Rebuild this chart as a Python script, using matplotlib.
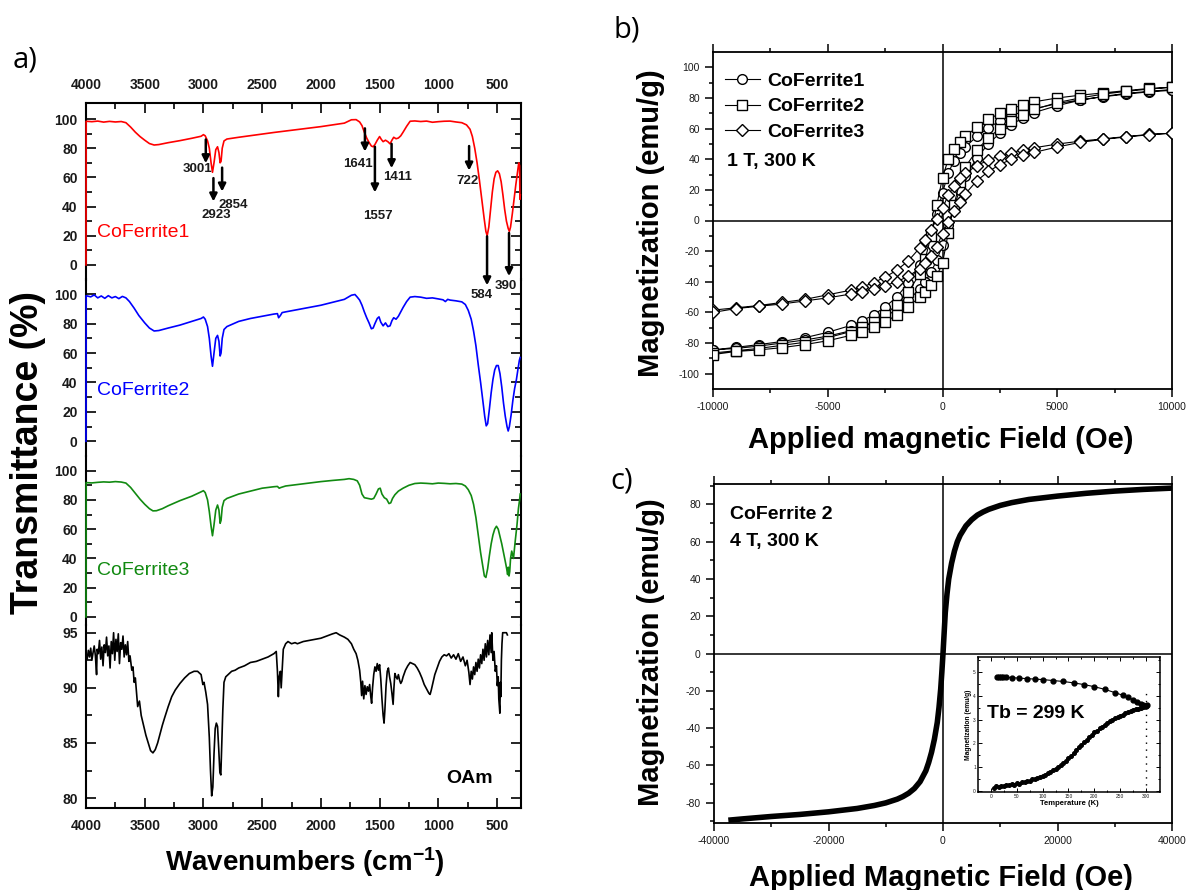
import matplotlib
matplotlib.use("Agg")
import matplotlib.pyplot as plt
from matplotlib.ticker import MultipleLocator, FixedLocator

plt.rcParams['font.family'] = ['Liberation Sans', 'DejaVu Sans']
plt.rcParams['mathtext.fontset'] = 'custom'
plt.rcParams['mathtext.rm'] = 'Liberation Sans'
plt.rcParams['mathtext.bf'] = 'Liberation Sans:bold'
plt.rcParams['mathtext.default'] = 'bf'
plt.rcParams['axes.unicode_minus'] = False

# ---------------- Panel a: FTIR spectra (wavenumber, transmittance) ----------------
cf1_pts = [(4000, 0), (3999, 98.5), (3950, 98.2), (3900, 98.6), (3850, 97.9), (3800, 98.4), (3750, 98.0),
           (3700, 98.3), (3660, 97.5), (3620, 94.5), (3580, 91), (3540, 88), (3500, 85.5), (3460, 83.2),
           (3420, 82.2), (3380, 82.5), (3300, 83.8), (3200, 85.2), (3100, 86.8), (3020, 88.2), (3000, 89.3),
           (2985, 88.5), (2965, 85), (2950, 80), (2935, 70), (2923, 63.5), (2910, 70), (2895, 79), (2880, 81),
           (2868, 77), (2858, 70), (2850, 71), (2840, 80), (2825, 85), (2800, 86.3), (2700, 87.5), (2600, 88.6),
           (2500, 89.7), (2400, 90.8), (2300, 91.8), (2200, 92.8), (2100, 93.8), (2000, 94.8), (1900, 96),
           (1800, 97.2), (1740, 99.5), (1700, 99.6), (1670, 98), (1650, 95.5), (1630, 91), (1610, 87),
           (1590, 84), (1570, 81.5), (1555, 81), (1540, 82.5), (1520, 85.5), (1500, 88), (1485, 86),
           (1470, 84.5), (1450, 85.5), (1430, 84.5), (1411, 83), (1395, 85.5), (1380, 87.5), (1360, 86.5),
           (1340, 87), (1320, 88.5), (1300, 91), (1270, 95), (1240, 98.5), (1200, 98.7), (1150, 98.3),
           (1100, 98.6), (1050, 97.8), (1000, 98.2), (950, 98.5), (900, 98.6), (850, 98), (800, 97.5),
           (760, 96), (730, 93), (710, 88), (690, 80), (670, 70), (650, 58), (630, 45), (610, 32), (595, 23),
           (584, 20), (570, 26), (555, 38), (540, 50), (525, 59), (510, 63.5), (495, 64.5), (480, 62.5),
           (465, 57), (450, 48), (435, 38), (420, 30), (405, 25), (395, 23), (385, 26), (370, 35), (355, 45),
           (340, 55), (325, 64), (315, 70), (308, 68), (305, 45), (302, 48)]

cf2_pts = [(4000, 0), (3999, 99), (3960, 98.2), (3930, 99.5), (3900, 97.5), (3870, 98.8), (3840, 97.2),
           (3810, 99), (3780, 97.5), (3750, 98.4), (3720, 97), (3690, 98.5), (3660, 97.5), (3630, 95),
           (3590, 90.5), (3550, 85.5), (3500, 80.5), (3460, 77), (3420, 75), (3380, 75.3), (3300, 77),
           (3200, 79), (3100, 81.5), (3020, 83.5), (3000, 84.5), (2985, 83), (2965, 78), (2950, 70), (2935, 58),
           (2923, 51), (2910, 60), (2895, 70), (2880, 72), (2868, 68), (2858, 58), (2850, 60), (2840, 70),
           (2825, 76), (2800, 78), (2700, 81.5), (2600, 83.5), (2500, 85), (2400, 86.5), (2370, 86.8),
           (2360, 84), (2345, 85.5), (2330, 87.5), (2300, 88), (2200, 89.5), (2100, 91), (2000, 92.5),
           (1900, 94.5), (1800, 96.5), (1740, 99.3), (1710, 99.8), (1690, 98), (1670, 96), (1650, 92.5),
           (1630, 88), (1610, 84), (1590, 80.5), (1570, 76.5), (1555, 77), (1540, 80), (1520, 83.5),
           (1505, 84.6), (1490, 81), (1470, 78.5), (1450, 80.5), (1430, 78), (1411, 78.5), (1395, 82),
           (1380, 84), (1360, 83), (1340, 85), (1320, 88), (1300, 91), (1270, 95), (1240, 98), (1200, 98.4),
           (1150, 98), (1100, 97.2), (1050, 97.5), (1000, 96.8), (960, 96.2), (940, 95), (920, 96.5),
           (900, 96), (850, 95.5), (800, 94.8), (770, 93), (745, 89), (720, 83), (700, 75), (680, 65),
           (660, 52), (640, 40), (620, 27), (605, 17), (592, 10.5), (580, 12), (565, 22), (550, 33),
           (535, 42), (520, 48.5), (505, 51.5), (490, 51.5), (475, 46), (460, 37), (445, 26), (430, 17),
           (415, 10), (405, 7), (395, 10), (380, 18), (365, 28), (350, 36), (335, 42), (320, 50), (310, 55),
           (303, 57)]

cf3_pts = [(4000, 0), (3999, 91.8), (3950, 91.6), (3900, 92), (3850, 92.3), (3800, 92.1), (3750, 92.5),
           (3700, 92.2), (3660, 91.5), (3620, 88.5), (3580, 84.5), (3540, 80.5), (3500, 77), (3460, 74),
           (3430, 72.5), (3400, 72.6), (3350, 74), (3300, 76), (3200, 79.5), (3100, 82.5), (3020, 85.5),
           (3000, 86.3), (2985, 85), (2965, 80), (2950, 72), (2935, 62), (2923, 55.5), (2910, 63), (2895, 73),
           (2880, 76.5), (2868, 73), (2858, 64), (2850, 66), (2840, 75), (2825, 79.5), (2800, 81), (2700, 84),
           (2600, 86), (2500, 88), (2400, 89), (2370, 89.2), (2355, 88), (2340, 88.5), (2300, 89.5),
           (2200, 90.5), (2100, 91.5), (2000, 92.5), (1900, 93.3), (1800, 94), (1760, 94.5), (1720, 94),
           (1690, 93), (1670, 90), (1650, 84), (1630, 81.5), (1600, 81), (1570, 80.5), (1550, 81), (1530, 84),
           (1510, 87.5), (1495, 88), (1480, 84), (1460, 81.5), (1440, 80.5), (1420, 77.5), (1405, 78),
           (1390, 81), (1370, 83.5), (1340, 86), (1300, 88), (1250, 90), (1200, 91.2), (1150, 91.5),
           (1100, 91.3), (1050, 91), (1000, 91.5), (950, 91.3), (900, 91), (850, 91.2), (800, 90.8),
           (770, 89.5), (745, 87), (720, 83), (700, 77), (680, 68), (660, 56), (640, 44), (620, 34), (608, 28),
           (595, 27), (580, 33), (565, 42), (550, 50), (535, 56), (520, 60), (505, 62), (490, 60), (475, 55),
           (460, 50), (445, 44), (430, 38), (418, 33), (410, 29), (404, 34), (398, 28), (392, 31), (385, 40),
           (375, 45), (360, 40), (345, 52), (330, 63), (318, 74), (308, 80), (303, 84)]

oam_pts = [(4000, 93.0), (3990, 92.6), (3980, 93.4), (3970, 92.8), (3960, 93.6), (3950, 92.5), (3940, 93.2),
           (3930, 93.8), (3920, 92.9), (3910, 91.2), (3905, 93.5), (3895, 93.1), (3885, 94.3), (3875, 92.6),
           (3865, 93.7), (3855, 92.0), (3845, 93.9), (3835, 93.2), (3825, 94.6), (3815, 92.9), (3805, 93.8),
           (3795, 91.8), (3785, 94.2), (3775, 93.1), (3765, 95.0), (3755, 92.5), (3745, 94.4), (3735, 93.3),
           (3725, 94.9), (3715, 92.2), (3705, 94.1), (3695, 93.5), (3685, 94.7), (3675, 92.8), (3665, 93.9),
           (3655, 93.0), (3645, 94.2), (3635, 92.4), (3625, 92.9), (3610, 91.6), (3600, 91.9), (3590, 90.5),
           (3580, 90.9), (3570, 89.6), (3560, 88.3), (3545, 88.8), (3530, 87.5), (3510, 86.6), (3490, 85.7),
           (3470, 85.0), (3450, 84.3), (3430, 84.1), (3410, 84.4), (3390, 85.0), (3370, 85.8), (3350, 86.6),
           (3330, 87.3), (3300, 88.3), (3270, 89.2), (3240, 89.8), (3200, 90.4), (3160, 90.9), (3120, 91.3),
           (3080, 91.5), (3050, 91.5), (3020, 91.2), (3005, 90.3), (2995, 90.5), (2980, 89.6), (2965, 88.5),
           (2950, 85.5), (2940, 82.5), (2930, 80.2), (2920, 81.0), (2910, 84.0), (2900, 86.3), (2890, 86.8),
           (2880, 86.5), (2870, 84.5), (2860, 82.3), (2852, 82.1), (2845, 84.5), (2835, 88.0), (2825, 90.5),
           (2810, 91.0), (2790, 91.2), (2760, 91.5), (2730, 91.6), (2700, 91.8), (2650, 92.0), (2600, 92.3),
           (2550, 92.4), (2500, 92.6), (2450, 92.8), (2400, 93.1), (2380, 93.3), (2370, 91.5), (2362, 89.2),
           (2355, 91.0), (2345, 91.5), (2338, 90.0), (2330, 91.5), (2320, 93.5), (2300, 94.0), (2280, 94.2),
           (2250, 94.0), (2220, 94.1), (2200, 94.0), (2150, 94.2), (2100, 94.3), (2050, 94.4), (2000, 94.5),
           (1950, 94.7), (1900, 94.9), (1870, 95.0), (1840, 94.8), (1800, 94.6), (1770, 94.4), (1740, 94.0),
           (1720, 93.5), (1700, 93.1), (1685, 92.5), (1670, 91.6), (1660, 90.5), (1653, 89.3), (1645, 90.6),
           (1635, 89.0), (1625, 90.2), (1615, 89.4), (1605, 90.1), (1595, 89.7), (1585, 90.3), (1575, 89.2),
           (1568, 88.6), (1560, 90.0), (1550, 91.2), (1540, 91.9), (1530, 91.5), (1520, 92.2), (1510, 91.6),
           (1500, 92.1), (1490, 90.8), (1480, 89.0), (1470, 87.5), (1462, 86.8), (1455, 88.0), (1445, 90.2),
           (1435, 91.5), (1425, 91.8), (1415, 91.0), (1405, 90.4), (1395, 89.5), (1385, 88.5), (1378, 90.0),
           (1370, 91.3), (1360, 91.0), (1350, 90.8), (1340, 91.2), (1330, 90.7), (1320, 90.4), (1310, 90.6),
           (1300, 91.0), (1280, 91.6), (1260, 92.0), (1240, 92.3), (1220, 92.2), (1200, 92.1), (1180, 91.8),
           (1160, 91.4), (1140, 90.9), (1120, 90.3), (1100, 89.9), (1080, 89.5), (1070, 89.4), (1060, 89.8),
           (1045, 90.5), (1030, 91.2), (1010, 91.8), (990, 92.4), (970, 92.8), (950, 93.0), (930, 92.9),
           (910, 93.1), (890, 92.7), (870, 93.0), (850, 92.6), (830, 93.1), (810, 92.4), (790, 92.8),
           (770, 92.0), (755, 92.5), (740, 91.4), (730, 90.3), (720, 91.5), (710, 90.8), (700, 91.9),
           (690, 91.2), (680, 92.3), (670, 91.5), (660, 92.6), (650, 91.8), (640, 93.0), (630, 92.2),
           (620, 93.5), (610, 92.5), (600, 94.0), (590, 92.8), (580, 94.3), (570, 93.0), (560, 94.8),
           (550, 93.2), (545, 95.0), (535, 92.5), (525, 93.3), (515, 91.5), (505, 92.0), (498, 90.2),
           (490, 91.0), (485, 89.0), (480, 88.2), (476, 87.7), (472, 90.5), (468, 89.2), (463, 92.5),
           (458, 94.0), (452, 95.0), (440, 95.0), (430, 95.0), (420, 95.0), (412, 94.8)]

spectra_names = ['CoFerrite1', 'CoFerrite2', 'CoFerrite3', 'OAm']
spectra_colors = ['#ff0000', '#0000ff', '#118a11', '#000000']
name_label_y = [21.9, 34.7, 32.0, 81.8]

peak_labels = ['3001', '2923', '2854', '1641', '1557', '1411', '722', '584', '390']
peak_wn = [2980, 2915, 2841, 1625, 1540, 1398, 738, 585, 398]
arrow_from = [86, 59.5, 66.7, 93.6, 81, 83, 81.5, 19.6, 21.9]
arrow_to = [69.7, 43.5, 50.3, 77.7, 49.7, 66.3, 64.7, -14.0, -7.7]
peak_text_wn = [3053, 2892, 2744, 1682, 1512, 1350, 755, 633, 426]
peak_text_y = [65.6, 34.4, 40.8, 69.2, 33.3, 60.1, 57.6, -20.5, -14.6]

# ---------------- Panel b: hysteresis loops at 1 T ----------------
field_desc = [10000, 9000, 8000, 7000, 6000, 5000, 4000, 3500, 3000, 2500, 2000, 1500, 1000, 750, 500, 250,
              0, -250, -500, -750, -1000, -1500, -2000, -2500, -3000, -3500, -4000, -5000, -6000, -7000,
              -8000, -9000, -10000]
field_asc = field_desc[::-1]
cf1_desc = [85, 84, 82.5, 80.8, 78.8, 76.3, 73, 71, 68.5, 65, 60.5, 55, 48, 44, 39, 31, 18, 4, -8, -20,
            -29, -41, -50, -56.5, -61.5, -65.5, -68.5, -73, -76.5, -79, -81, -82.8, -84.5]
cf1_asc = [-84.5, -83.5, -82, -80, -78, -75.5, -72, -69.5, -66.5, -63, -58, -52, -45, -40, -33.5, -26,
           -16, -3, 9, 20, 29, 41, 50, 57, 62.5, 67, 70.5, 75, 78.5, 81, 83, 84.3, 85.5]
cf2_desc = [87, 86.2, 84.8, 83.3, 81.8, 80, 77.5, 75.5, 73, 70, 66, 61, 55, 51.5, 47, 40, 28, 10, -10, -25,
            -35, -47, -55, -61.5, -66, -69.5, -72.5, -76.5, -79.5, -81.5, -83.5, -85, -86.5]
cf2_asc = [-87.5, -85.5, -84.5, -83, -81, -78.5, -75, -72.5, -69.5, -66, -62, -56.5, -50, -46.5, -42, -36,
           -28, -8, 10, 25, 35, 46, 54, 60, 65, 69, 72.5, 77, 80, 82.5, 84.3, 85.8, 87]
cf3_desc = [57, 56.2, 54.8, 53.3, 51.8, 49.9, 47.5, 46.2, 44.3, 42.3, 39.5, 35.8, 31, 27.5, 22.5, 16.5, 8,
            1, -6, -12.5, -18, -26.5, -32.5, -37, -40.5, -43.5, -45.5, -48.5, -51.5, -53.5, -55.5, -57, -58.5]
cf3_asc = [-60, -57.5, -56, -54.5, -52.5, -50.5, -48, -46.5, -44.5, -42.5, -40, -36.5, -31.5, -28, -23, -17,
           -8.5, -1, 6, 12, 17.5, 26, 32, 36.5, 40, 42.5, 44.5, 48, 51, 53, 54.5, 56, 57]
loop_names = ['CoFerrite1', 'CoFerrite2', 'CoFerrite3']
loop_markers = ['o', 's', 'D']

# ---------------- Panel c: CoFerrite 2 at 4 T ----------------
field_c = [-37500, -35000, -30000, -25000, -20000, -15000, -12000, -10000, -8000, -7000, -6000, -5000,
           -4000, -3000, -2500, -2000, -1500, -1000, -700, -400, -200, 0, 200, 400, 700, 1000, 1500, 2000,
           2500, 3000, 4000, 5000, 6000, 7000, 8000, 10000, 12000, 15000, 20000, 25000, 30000, 35000, 40000]
mag_c = [-89.5, -88.8, -87.5, -86.4, -85, -83.2, -81.6, -80.2, -78.2, -76.8, -75, -72.5, -68.8, -63, -58.5,
         -53, -46, -37, -29, -19, -10, 0, 11, 22, 32, 40, 48.5, 55, 60, 63.5, 68.5, 71.8, 74.3, 76, 77.4,
         79.5, 81, 82.7, 84.5, 86, 87.2, 88.1, 88.8]

# inset: ZFC / FC
fc_T = [12, 16, 20, 24, 30, 40, 55, 70, 85, 100, 120, 140, 160, 180, 200, 220, 240, 255, 265, 275, 283,
        290, 295, 298, 300, 301]
fc_M = [4.8, 4.8, 4.8, 4.8, 4.78, 4.76, 4.74, 4.72, 4.7, 4.68, 4.64, 4.6, 4.54, 4.47, 4.38, 4.27, 4.13,
        4.02, 3.93, 3.83, 3.74, 3.67, 3.62, 3.58, 3.56, 3.6]
zfc_T = list(range(5, 305, 5))
zfc_M = [0.12, 0.2, 0.17, 0.22, 0.2, 0.24, 0.23, 0.27, 0.26, 0.31, 0.3, 0.35, 0.36, 0.4, 0.43, 0.48, 0.5,
         0.56, 0.58, 0.64, 0.68, 0.74, 0.8, 0.87, 0.93, 1.02, 1.08, 1.19, 1.26, 1.39, 1.47, 1.6, 1.7, 1.84,
         1.92, 2.05, 2.13, 2.26, 2.33, 2.46, 2.52, 2.63, 2.7, 2.79, 2.85, 2.93, 2.98, 3.06, 3.1, 3.16, 3.2,
         3.26, 3.3, 3.36, 3.38, 3.43, 3.46, 3.5, 3.53, 3.56]
tb_value = 299
tb_line_T = 300

# ================= drawing =================
W, H = 1189, 890
fig = plt.figure(figsize=(W / 100, H / 100), dpi=100)


def px_axes(x0, y0, x1, y1):
    return fig.add_axes([x0 / W, 1 - y1 / H, (x1 - x0) / W, (y1 - y0) / H])


TXT = '#1a1a1a'

# ---- panel a ----
seg_px = [(103, 279.5), (279.5, 456), (456, 625), (625, 808)]
seg_ylim = [(-10, 111), (-10, 110), (-5.5, 110), (79.1, 95.7)]
all_spectra = [cf1_pts, cf2_pts, cf3_pts, oam_pts]
axes_a = []
for i, (pts, col, (top, bot), yl) in enumerate(zip(all_spectra, spectra_colors, seg_px, seg_ylim)):
    ax = px_axes(86, top, 521, bot)
    ax.patch.set_visible(False)
    wn = [p[0] for p in pts]
    tr = [p[1] for p in pts]
    ax.plot(wn, tr, color=col, lw=1.2, clip_on=False, zorder=3)
    ax.set_xlim(4000, 296)
    ax.set_ylim(*yl)
    ax.xaxis.set_major_locator(MultipleLocator(500))
    ax.xaxis.set_minor_locator(MultipleLocator(250))
    if i < 3:
        ax.yaxis.set_major_locator(FixedLocator([0, 20, 40, 60, 80, 100]))
        ax.yaxis.set_minor_locator(FixedLocator([10, 30, 50, 70, 90]))
    else:
        ax.yaxis.set_major_locator(FixedLocator([80, 85, 90, 95]))
        ax.yaxis.set_minor_locator(FixedLocator([82.5, 87.5, 92.5]))
    for s in ax.spines.values():
        s.set_linewidth(1.5)
    ax.spines['top'].set_visible(i == 0)
    ax.spines['bottom'].set_visible(i == 3)
    ax.tick_params(axis='x', which='both', direction='in', top=(i == 0), bottom=(i == 3),
                   labeltop=(i == 0), labelbottom=(i == 3), labelsize=10, labelcolor=TXT, width=1.2,
                   pad=8)
    ax.tick_params(axis='y', which='both', direction='in', left=True, right=True, labelleft=True,
                   labelsize=10, labelcolor=TXT, width=1.2, pad=6)
    ax.tick_params(which='major', length=7)
    ax.tick_params(which='minor', length=4)
    for lab in ax.get_xticklabels() + ax.get_yticklabels():
        lab.set_fontweight('bold')
    if i < 3:
        ax.text(3906, name_label_y[i], spectra_names[i], color=col, fontsize=14, ha='left', va='center')
    else:
        ax.text(733, name_label_y[i], spectra_names[i], color=col, fontsize=14, fontweight='bold',
                ha='center', va='center')
    axes_a.append(ax)

ax1 = axes_a[0]
for lab, wn, y0, y1, tx, ty in zip(peak_labels, peak_wn, arrow_from, arrow_to, peak_text_wn, peak_text_y):
    ax1.annotate('', xy=(wn, y1), xytext=(wn, y0), annotation_clip=False,
                 arrowprops=dict(arrowstyle='-|>', color='black', lw=1.8, mutation_scale=11,
                                 shrinkA=0, shrinkB=0), zorder=6)
    ax1.text(tx, ty, lab, fontsize=9.5, fontweight='bold', color=TXT, ha='center', va='center',
             clip_on=False, zorder=6)

fig.text(28 / W, 1 - 452 / H, 'Transmittance (%)', rotation=90, fontsize=27, fontweight='bold',
         ha='center', va='center')
fig.text(305 / W, 1 - 862 / H, 'Wavenumbers (cm$^{-1}$)', fontsize=20, fontweight='bold',
         ha='center', va='center')


def style_mag_axes(ax):
    for s in ax.spines.values():
        s.set_linewidth(1.3)
    ax.tick_params(which='both', direction='out', top=True, right=False, labelsize=7.5,
                   labelcolor=TXT, width=1.1)
    ax.tick_params(which='major', length=6)
    ax.tick_params(which='minor', length=3)
    ax.axhline(0, color='black', lw=1.1, zorder=1)
    ax.axvline(0, color='black', lw=1.1, zorder=1)


# ---- panel b ----
axb = px_axes(713, 52, 1172, 389)
loops = [(cf1_desc, cf1_asc), (cf2_desc, cf2_asc), (cf3_desc, cf3_asc)]
for (d, a), name, mk in zip(loops, loop_names, loop_markers):
    axb.plot(field_desc + field_asc, d + a, marker=mk, color='black', mfc='white', mec='black',
             ms=7 if mk != 'D' else 6.5, mew=1.0, lw=0.8, label=name, zorder=3)
axb.set_xlim(-10000, 10000)
axb.set_ylim(-110, 110)
axb.xaxis.set_major_locator(MultipleLocator(5000))
axb.xaxis.set_minor_locator(MultipleLocator(2500))
axb.yaxis.set_major_locator(FixedLocator(list(range(-100, 101, 20))))
axb.yaxis.set_minor_locator(FixedLocator(list(range(-90, 91, 20))))
style_mag_axes(axb)
leg = axb.legend(loc='upper left', bbox_to_anchor=(0.0, 0.975), frameon=False,
                 prop={'size': 14, 'weight': 'bold'}, handlelength=1.8, handletextpad=0.4,
                 labelspacing=0.42, borderaxespad=0.2)
axb.text(0.03, 0.674, '1 T, 300 K', transform=axb.transAxes, fontsize=14, fontweight='bold',
         ha='left', va='center')
fig.text(651 / W, 1 - 223 / H, 'Magnetization (emu/g)', rotation=90, fontsize=21, fontweight='bold',
         ha='center', va='center')
fig.text(941 / W, 1 - 440 / H, 'Applied magnetic Field (Oe)', fontsize=21, fontweight='bold',
         ha='center', va='center')

# ---- panel c ----
axc = px_axes(714, 484, 1172, 823)
axc.plot(field_c, mag_c, color='black', lw=4, solid_capstyle='butt', solid_joinstyle='round', zorder=3)
axc.set_xlim(-40000, 40000)
axc.set_ylim(-91, 91)
axc.xaxis.set_major_locator(MultipleLocator(20000))
axc.xaxis.set_minor_locator(MultipleLocator(10000))
axc.yaxis.set_major_locator(FixedLocator(list(range(-80, 81, 20))))
axc.yaxis.set_minor_locator(FixedLocator(list(range(-90, 91, 20))))
style_mag_axes(axc)
axc.text(0.035, 0.911, 'CoFerrite 2', transform=axc.transAxes, fontsize=14, fontweight='bold',
         ha='left', va='center')
axc.text(0.035, 0.829, '4 T, 300 K', transform=axc.transAxes, fontsize=14, fontweight='bold',
         ha='left', va='center')
fig.text(651 / W, 1 - 652 / H, 'Magnetization (emu/g)', rotation=90, fontsize=21, fontweight='bold',
         ha='center', va='center')
fig.text(941 / W, 1 - 878 / H, 'Applied Magnetic Field (Oe)', fontsize=21, fontweight='bold',
         ha='center', va='center')

# inset
axi = px_axes(978, 657, 1160, 792)
axi.plot(fc_T, fc_M, marker='o', color='black', ms=3.5, lw=0.8)
axi.plot(zfc_T, zfc_M, marker='o', color='black', ms=2.6, lw=0.8)
axi.axvline(tb_line_T, ymin=0.0, ymax=0.73, color='black', lw=1.0, ls=(0, (1, 4)))
axi.set_xlim(-25, 327)
axi.set_ylim(-0.05, 5.63)
axi.xaxis.set_major_locator(MultipleLocator(50))
axi.xaxis.set_minor_locator(MultipleLocator(25))
axi.yaxis.set_major_locator(MultipleLocator(1))
axi.yaxis.set_minor_locator(MultipleLocator(0.5))
for s in axi.spines.values():
    s.set_linewidth(1.1)
axi.tick_params(which='both', direction='in', top=True, right=True, labelsize=3.5, labelcolor=TXT,
                width=0.7, pad=1.5)
axi.tick_params(which='major', length=3)
axi.tick_params(which='minor', length=1.5)
axi.set_xlabel('Temperature (K)', fontsize=5.5, fontweight='bold', labelpad=1)
axi.set_ylabel('Magnetization (emu/g)', fontsize=4.8, fontweight='bold', labelpad=1)
axi.text(0.05, 0.585, 'Tb = %d K' % tb_value, transform=axi.transAxes, fontsize=14, fontweight='bold',
         ha='left', va='center')

# panel letters
fig.text(25 / W, 1 - 60 / H, 'a)', fontsize=21, family='Open Sans', ha='center', va='center')
fig.text(627 / W, 1 - 30 / H, 'b)', fontsize=21, family='Open Sans', ha='center', va='center')
fig.text(622 / W, 1 - 481 / H, 'c)', fontsize=21, family='Open Sans', ha='center', va='center')

fig.savefig('out.png', dpi=100)
